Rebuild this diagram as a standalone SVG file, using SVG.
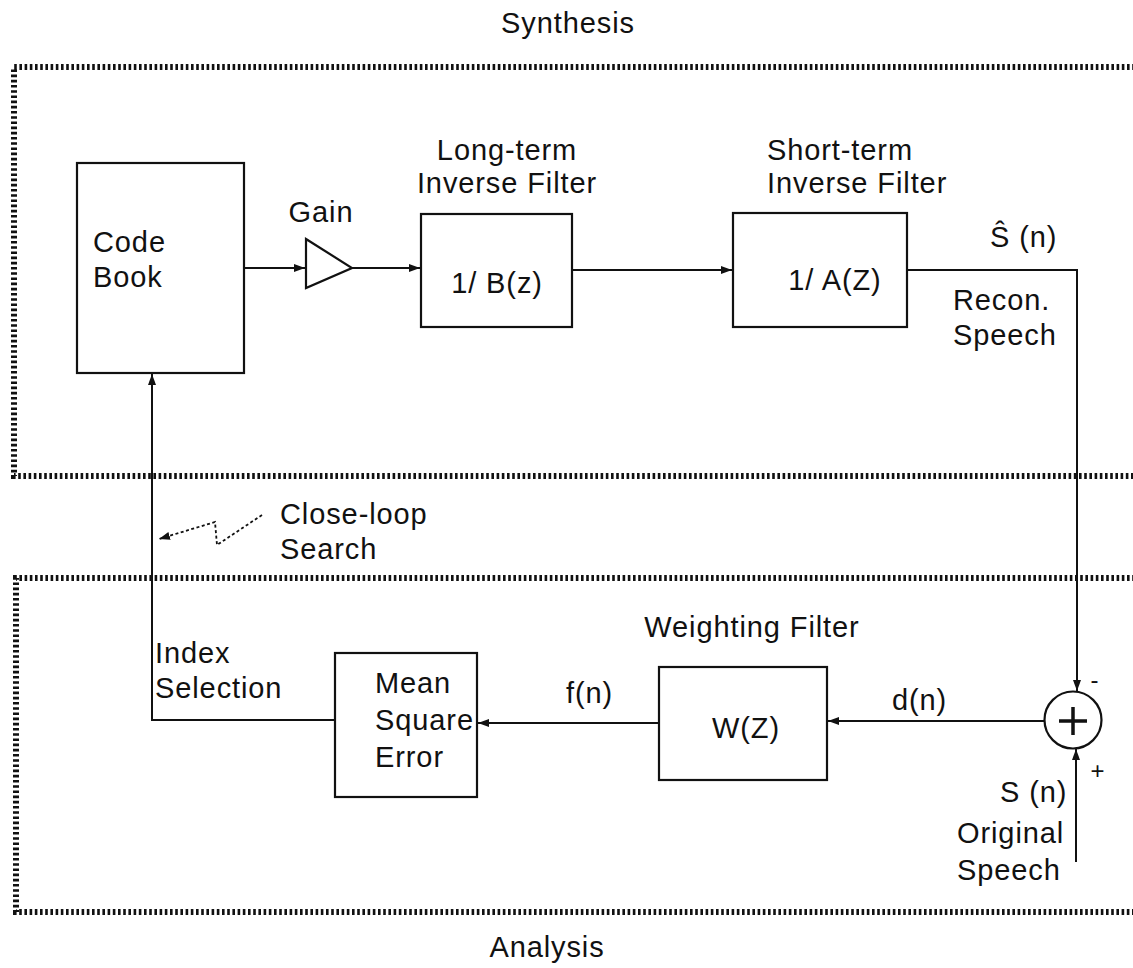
<svg xmlns="http://www.w3.org/2000/svg" width="1133" height="968" viewBox="0 0 1133 968">
<style>
  .t { font-family: "Liberation Sans", Arial, sans-serif; font-size: 29px; letter-spacing: 0.9px; fill: #111; }
  .box { fill: none; stroke: #111; stroke-width: 2.2; }
  .ln { fill: none; stroke: #111; stroke-width: 2; }
  .frame { fill: none; stroke: #111; stroke-width: 6; stroke-dasharray: 2.6 2.6; }
  .dsh { fill: none; stroke: #111; stroke-width: 1.8; stroke-dasharray: 3 2.5; }
</style>
<defs>
  <marker id="ah" markerWidth="12" markerHeight="10" refX="11" refY="5" orient="auto" markerUnits="userSpaceOnUse">
    <path d="M0,1 L11,5 L0,9 Z" fill="#111"/>
  </marker>
</defs>
<rect width="1133" height="968" fill="#fff"/>

<g id="frames">
  <path class="frame" d="M1140,67 H14 V476 H1140"/>
  <path class="frame" d="M1140,578 H16 V912 H1140"/>
  <text class="t" x="568" y="33" text-anchor="middle">Synthesis</text>
  <text class="t" x="547" y="957" text-anchor="middle">Analysis</text>
</g>

<g id="codebook">
  <rect class="box" x="77" y="163" width="167" height="210"/>
  <text class="t" x="93" y="252">Code</text>
  <text class="t" x="93" y="287">Book</text>
</g>

<g id="gain">
  <path class="box" d="M306,239 L352,268 L306,288 Z"/>
  <text class="t" x="321" y="222" text-anchor="middle">Gain</text>
</g>

<g id="longterm">
  <rect class="box" x="421" y="214" width="151" height="113"/>
  <text class="t" x="497" y="293" text-anchor="middle">1/ B(z)</text>
  <text class="t" x="507" y="160" text-anchor="middle">Long-term</text>
  <text class="t" x="507" y="193" text-anchor="middle">Inverse Filter</text>
</g>

<g id="shortterm">
  <rect class="box" x="733" y="213" width="174" height="114"/>
  <text class="t" x="835" y="290" text-anchor="middle">1/ A(Z)</text>
  <text class="t" x="767" y="160">Short-term</text>
  <text class="t" x="767" y="193">Inverse Filter</text>
</g>

<g id="recon">
  <text class="t" x="990" y="247">Ŝ (n)</text>
  <text class="t" x="953" y="310">Recon.</text>
  <text class="t" x="953" y="345">Speech</text>
</g>

<g id="sum">
  <circle cx="1073" cy="720" r="28.5" fill="none" stroke="#111" stroke-width="2.2"/>
  <path d="M1059,721 H1087 M1073,707 V735" stroke="#111" stroke-width="3.5" fill="none"/>
  <text class="t" x="1095" y="688" text-anchor="middle" style="font-size:24px">-</text>
  <text class="t" x="1098" y="779" text-anchor="middle" style="font-size:24px">+</text>
</g>

<g id="original">
  <text class="t" x="1000" y="802">S (n)</text>
  <text class="t" x="957" y="843">Original</text>
  <text class="t" x="957" y="880">Speech</text>
</g>

<g id="weighting">
  <rect class="box" x="659" y="667" width="168" height="113"/>
  <text class="t" x="746" y="738" text-anchor="middle">W(Z)</text>
  <text class="t" x="752" y="637" text-anchor="middle">Weighting Filter</text>
</g>

<g id="mse">
  <rect class="box" x="335" y="653" width="142" height="144"/>
  <text class="t" x="375" y="693">Mean</text>
  <text class="t" x="375" y="730">Square</text>
  <text class="t" x="375" y="767">Error</text>
</g>

<g id="labels">
  <text class="t" x="155" y="663">Index</text>
  <text class="t" x="155" y="698">Selection</text>
  <text class="t" x="566" y="703">f(n)</text>
  <text class="t" x="892" y="710">d(n)</text>
  <text class="t" x="280" y="524">Close-loop</text>
  <text class="t" x="280" y="559">Search</text>
</g>

<g id="connectors">
  <path class="ln" d="M244,268 H305" marker-end="url(#ah)"/>
  <path class="ln" d="M352,268 H420" marker-end="url(#ah)"/>
  <path class="ln" d="M572,270 H732" marker-end="url(#ah)"/>
  <path class="ln" d="M907,270 H1077 V691" marker-end="url(#ah)"/>
  <path class="ln" d="M1076,862 V749" marker-end="url(#ah)"/>
  <path class="ln" d="M1044,721 H828" marker-end="url(#ah)"/>
  <path class="ln" d="M659,723 H478" marker-end="url(#ah)"/>
  <path class="ln" d="M335,720 H152 V374" marker-end="url(#ah)"/>
  <path class="dsh" d="M262,515 L217,545 L215,522 L159,539" marker-end="url(#ah)"/>
</g>
</svg>
